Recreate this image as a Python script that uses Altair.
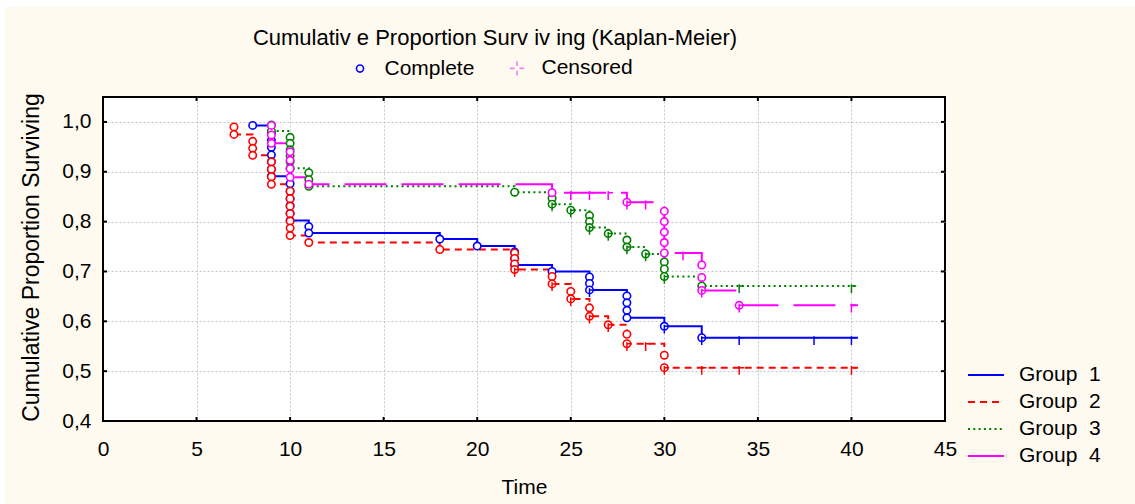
import altair as alt
import pandas as pd

FONT = "Liberation Sans"
FS = 21

# ---------------- data ----------------
group_names = ["Group\u00a0\u00a01", "Group\u00a0\u00a02", "Group\u00a0\u00a03", "Group\u00a0\u00a04"]
group_colors = ["#0000FF", "#FF0000", "#008000", "#FF00FF"]
group_dashes = [[1, 0], [7, 5], [2, 3.3], [42, 15]]

type_names = ["Complete", "Censored"]
type_colors = ["#0000FF", "#F080F0"]

x_ticks = [0, 5, 10, 15, 20, 25, 30, 35, 40, 45]
y_ticks = [0.4, 0.5, 0.6, 0.7, 0.8, 0.9, 1.0]

title_text = "Cumulativ e Proportion Surv iv ing (Kaplan-Meier)"

# Kaplan-Meier step curves
g1_step_t = [8, 9, 10, 11, 18, 20, 22, 24, 26, 28, 30, 32, 40.35]
g1_step_s = [0.993, 0.891, 0.802, 0.777, 0.765, 0.751, 0.713, 0.700, 0.663, 0.607, 0.590, 0.567, 0.567]
g2_step_t = [7, 8, 9, 10, 11, 18, 22, 24, 25, 26, 27, 28, 30, 40.35]
g2_step_s = [0.975, 0.933, 0.875, 0.772, 0.758, 0.744, 0.704, 0.675, 0.645, 0.610, 0.593, 0.555, 0.507, 0.507]
g3_step_t = [9, 10, 11, 22, 24, 25, 26, 27, 28, 29, 30, 32, 40.35]
g3_step_s = [0.982, 0.907, 0.871, 0.859, 0.835, 0.823, 0.788, 0.776, 0.749, 0.735, 0.690, 0.671, 0.671]
g4_step_t = [9, 10, 11, 24, 28, 30, 32, 34, 40.35]
g4_step_s = [0.957, 0.889, 0.875, 0.858, 0.839, 0.737, 0.662, 0.632, 0.632]

# complete (event) observations
g1_ev_t = [8, 9, 9, 9, 9, 9, 9, 9, 10, 10, 10, 10, 10, 10, 11, 11, 18, 20, 22, 22, 22, 24,
           26, 26, 26, 28, 28, 28, 28, 30, 32]
g1_ev_s = [0.993, 0.978, 0.963, 0.949, 0.934, 0.920, 0.905, 0.891, 0.876, 0.861, 0.846, 0.832,
           0.817, 0.802, 0.790, 0.777, 0.765, 0.751, 0.739, 0.726, 0.713, 0.700, 0.689, 0.676,
           0.663, 0.651, 0.637, 0.622, 0.607, 0.590, 0.567]
g2_ev_t = [7, 7, 8, 8, 8, 9, 9, 9, 9, 10, 10, 10, 10, 10, 10, 10, 11, 18, 22, 22, 22, 22,
           24, 24, 25, 25, 26, 26, 27, 28, 28, 30, 30]
g2_ev_s = [0.990, 0.975, 0.961, 0.947, 0.933, 0.920, 0.905, 0.890, 0.875, 0.861, 0.846, 0.831,
           0.816, 0.801, 0.787, 0.772, 0.758, 0.744, 0.737, 0.726, 0.715, 0.704, 0.690, 0.675,
           0.660, 0.645, 0.627, 0.610, 0.593, 0.574, 0.555, 0.532, 0.507]
g3_ev_t = [9, 9, 10, 10, 10, 10, 10, 10, 11, 11, 11, 22, 24, 24, 25, 26, 26, 26, 27, 28, 28,
           29, 30, 30, 30, 32]
g3_ev_s = [0.994, 0.982, 0.969, 0.957, 0.944, 0.932, 0.920, 0.907, 0.898, 0.884, 0.871, 0.859,
           0.847, 0.835, 0.823, 0.812, 0.800, 0.788, 0.776, 0.763, 0.749, 0.735, 0.719, 0.705,
           0.690, 0.671]
g4_ev_t = [9, 9, 9, 10, 10, 10, 10, 11, 24, 28, 30, 30, 30, 30, 30, 32, 32, 32, 34]
g4_ev_s = [0.993, 0.974, 0.957, 0.940, 0.923, 0.906, 0.889, 0.875, 0.858, 0.839, 0.821, 0.800,
           0.779, 0.758, 0.737, 0.713, 0.688, 0.662, 0.632]

# censored observations
g1_ce_t = [26, 30, 32, 34, 38, 40]
g1_ce_s = [0.663, 0.590, 0.567, 0.567, 0.567, 0.567]
g2_ce_t = [22, 24, 25, 26, 27, 28, 29, 30, 32, 34, 40]
g2_ce_s = [0.704, 0.675, 0.645, 0.610, 0.593, 0.555, 0.555, 0.507, 0.507, 0.507, 0.507]
g3_ce_t = [24, 25, 26, 27, 28, 29, 30, 34, 40]
g3_ce_s = [0.835, 0.823, 0.788, 0.776, 0.749, 0.735, 0.690, 0.671, 0.671]
g4_ce_t = [25, 26, 27, 28, 29, 31, 32, 34, 40]
g4_ce_s = [0.858, 0.858, 0.858, 0.839, 0.839, 0.737, 0.662, 0.632, 0.632]


def long_df(ts_list, ss_list):
    rows = []
    for g, ts, ss in zip(group_names, ts_list, ss_list):
        for t, s in zip(ts, ss):
            rows.append({"group": g, "time": t, "surv": s})
    return pd.DataFrame(rows)


steps = long_df([g1_step_t, g2_step_t, g3_step_t, g4_step_t],
                [g1_step_s, g2_step_s, g3_step_s, g4_step_s])
events = long_df([g1_ev_t, g2_ev_t, g3_ev_t, g4_ev_t], [g1_ev_s, g2_ev_s, g3_ev_s, g4_ev_s])
cens = long_df([g1_ce_t, g2_ce_t, g3_ce_t, g4_ce_t], [g1_ce_s, g2_ce_s, g3_ce_s, g4_ce_s])

# ---------------- styling ----------------
W, H = 842, 324
x_scale = alt.Scale(domain=[0, 45], nice=False, zero=False)
y_scale = alt.Scale(domain=[0.4, 1.05], nice=False, zero=False)
color_scale = alt.Scale(domain=group_names, range=group_colors)
dash_scale = alt.Scale(domain=group_names, range=group_dashes)

censor_path = "M0,-0.4L0,1.8M0,0L1.2,0"
legend_cross = "M-2,0L-0.7,0M0.7,0L2,0M0,-2L0,-0.7M0,0.7L0,2"

x_axis = alt.Axis(
    values=x_ticks, title="Time", grid=True, gridDash=[2, 2], gridColor="#C4C4C4",
    gridOpacity={"condition": {"test": "datum.value == 0 || datum.value == 45", "value": 0}, "value": 1},
    domain=False, ticks=False, labelFont=FONT, labelFontSize=FS, labelColor="black",
    labelPadding=17, labelFlush=False, labelOverlap=False,
    titleFont=FONT, titleFontSize=FS, titleFontWeight="normal", titleColor="black",
    titleX=W / 2, titleY=72, titleBaseline="alphabetic", titleAlign="center",
)
y_axis = alt.Axis(
    values=y_ticks, title="Cumulative Proportion Surviving", grid=True, gridDash=[2, 2],
    gridColor="#C4C4C4",
    gridOpacity={"condition": {"test": "datum.value < 0.45", "value": 0}, "value": 1},
    domain=False, ticks=False, labelFont=FONT, labelFontSize=FS, labelColor="black",
    labelPadding=12, labelFlush=False, labelOverlap=False,
    labelExpr="replace(format(datum.value, '.1f'), '.', ',')",
    titleFont=FONT, titleFontSize=23, titleFontWeight="normal", titleColor="black",
    titleX=-64.8, titleY=160, titleAngle=270, titleBaseline="alphabetic", titleAlign="center",
)

group_legend = alt.Legend(
    title=None, orient="none", legendX=870, legendY=265, padding=0,
    symbolType="M-1.5,0L1.5,0", symbolSize=576, symbolStrokeWidth=2,
    labelFont=FONT, labelFontSize=FS, labelColor="black", labelOffset=20, rowPadding=4,
)
type_legend = alt.Legend(
    title=None, orient="none", direction="horizontal", legendX=246.5, legendY=-39.2, padding=0,
    symbolSize=50, symbolStrokeWidth=1.6, labelFont=FONT, labelFontSize=FS, labelColor="black",
    labelOffset=14, columnPadding=32,
)

X = alt.X("time:Q", scale=x_scale, axis=x_axis)
Y = alt.Y("surv:Q", scale=y_scale, axis=y_axis)

# white outer strips (top and left edge of the picture)
one = pd.DataFrame({"k": [0]})
strip_top = alt.Chart(one).mark_rect(color="white").encode(
    x=alt.value(-103), x2=alt.value(W + 190), y=alt.value(-97), y2=alt.value(-90))
strip_left = alt.Chart(one).mark_rect(color="white").encode(
    x=alt.value(-103), x2=alt.value(-98), y=alt.value(-97), y2=alt.value(H + 83))

lines = alt.Chart(steps).mark_line(interpolate="step-after", strokeWidth=2).encode(
    x=X, y=Y,
    color=alt.Color("group:N", scale=color_scale, legend=group_legend),
    strokeDash=alt.StrokeDash("group:N", scale=dash_scale, legend=group_legend),
)

circles = alt.Chart(events).mark_point(
    shape="circle", filled=False, fill="white", fillOpacity=1, size=55, strokeWidth=1.6, opacity=1
).encode(x=X, y=Y, color=alt.Color("group:N", scale=color_scale, legend=group_legend))

censors = alt.Chart(cens).mark_point(
    shape=censor_path, filled=False, size=64, strokeWidth=1.5, opacity=1
).encode(x=X, y=Y, color=alt.Color("group:N", scale=color_scale, legend=group_legend))

xt = pd.DataFrame({"time": x_ticks})
yt = pd.DataFrame({"surv": y_ticks})
tick_style = dict(color="black", strokeWidth=2)
top_ticks = alt.Chart(xt).mark_rule(**tick_style).encode(x=X, y=alt.value(0), y2=alt.value(4))
bot_ticks = alt.Chart(xt).mark_rule(**tick_style).encode(x=X, y=alt.value(H), y2=alt.value(H - 4))
left_ticks = alt.Chart(yt).mark_rule(**tick_style).encode(y=Y, x=alt.value(0), x2=alt.value(4))
right_ticks = alt.Chart(yt).mark_rule(**tick_style).encode(y=Y, x=alt.value(W), x2=alt.value(W - 4))

legend_df = pd.DataFrame({"type": type_names})
type_key = alt.Chart(legend_df).mark_point(filled=False, size=50, opacity=1).encode(
    x=alt.value(-3000), y=alt.value(-3000),
    stroke=alt.Stroke("type:N", scale=alt.Scale(domain=type_names, range=type_colors),
                      legend=type_legend),
    shape=alt.Shape("type:N", scale=alt.Scale(domain=type_names, range=["circle", legend_cross]),
                    legend=type_legend),
)

title_df = pd.DataFrame({"text": [title_text]})
title = alt.Chart(title_df).mark_text(
    font=FONT, fontSize=22, align="center", baseline="alphabetic", color="black"
).encode(x=alt.value(392), y=alt.value(-52), text="text:N")

chart = alt.layer(
    strip_top, strip_left, lines, circles, censors,
    top_ticks, bot_ticks, left_ticks, right_ticks, type_key, title
).properties(
    width=W, height=H,
    padding={"left": 103, "top": 97, "right": 190, "bottom": 83},
    autosize=alt.AutoSizeParams(type="none"),
    background="#FEFAEF",
).configure_view(fill="white", stroke="black", strokeWidth=2)

chart.save("out.html", embed_options={"renderer": "svg", "actions": False})
